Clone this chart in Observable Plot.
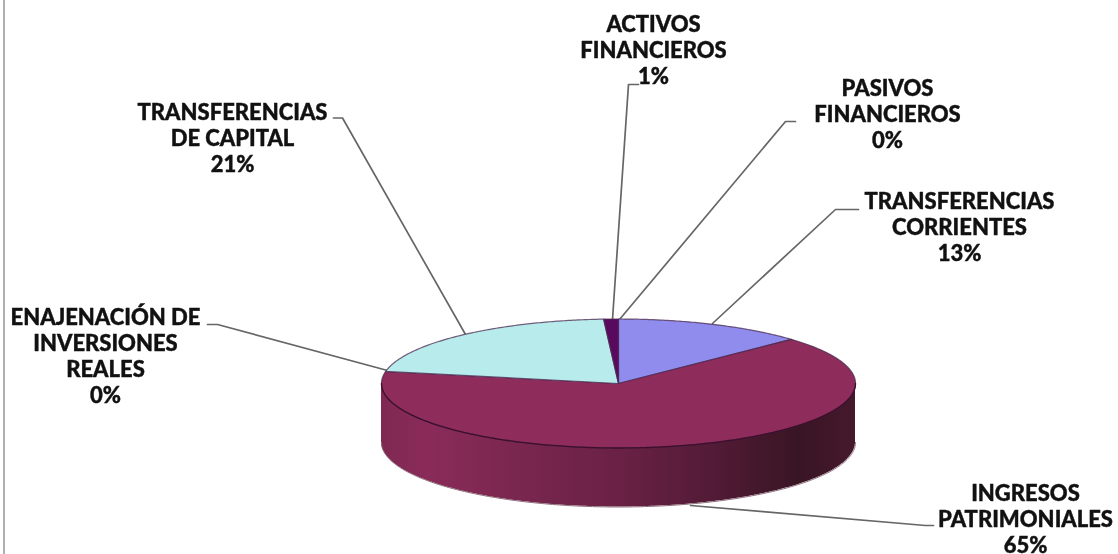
<!DOCTYPE html>
<html><head><meta charset="utf-8">
<script src="https://cdn.jsdelivr.net/npm/d3@7"></script>
<script src="https://cdn.jsdelivr.net/npm/@observablehq/plot@0.6"></script>
<style>html,body{margin:0;padding:0;background:#fff;overflow:hidden}
svg{display:block;filter:blur(0.5px)}</style>
</head><body><div id="chart"></div>
<script>
const categories = ["TRANSFERENCIAS CORRIENTES","INGRESOS PATRIMONIALES","ENAJENACIÓN DE INVERSIONES REALES","TRANSFERENCIAS DE CAPITAL","ACTIVOS FINANCIEROS","PASIVOS FINANCIEROS"];
const shares = [13, 65, 0, 21, 1, 0];
const sliceColors = ["#8f8cee","#8e2c5c","#7a7a7a","#b8ecec","#5a0a5e","#8f8cee"];
const labelLines = [
  ["TRANSFERENCIAS","CORRIENTES","13%"],
  ["INGRESOS","PATRIMONIALES","65%"],
  ["ENAJENACIÓN DE","INVERSIONES","REALES","0%"],
  ["TRANSFERENCIAS","DE CAPITAL","21%"],
  ["ACTIVOS","FINANCIEROS","1%"],
  ["PASIVOS","FINANCIEROS","0%"]
];
const labelX = [959, 1025, 105, 232, 653, 887];
const labelTop = [201, 493, 317, 112, 24, 88];
const leaders = [
  [[712,323],[835,209],[858,209]],
  [[690,505],[925,525],[933,525]],
  [[387,370],[217,324],[207,324]],
  [[465,334],[342,117.5],[333,117.5]],
  [[612,319],[628,84],[638,84]],
  [[619,319],[785,121],[795,121]]
];

const W = 1118, H = 554, cx = 618, cy = 383, rx = 237, ry = 64.5, depth = 59;
const lineStep = 26;
const total = d3.sum(shares);
const pt = (a, dy = 0) => ({x: cx + rx * Math.sin(a), y: cy - ry * Math.cos(a) + dy});

// slices on the top face, clockwise from 12 o'clock
let cum = 0;
const faces = [];
shares.forEach((v, i) => {
  const a0 = cum / total * 2 * Math.PI; cum += v;
  const a1 = cum / total * 2 * Math.PI;
  if (v === 0) return;
  const n = Math.max(2, Math.ceil((a1 - a0) / 0.01));
  const pts = [{x: cx, y: cy}];
  for (let k = 0; k <= n; k++) pts.push(pt(a0 + (a1 - a0) * k / n));
  pts.push({x: cx, y: cy});
  faces.push({i, pts});
});

// visible wall: front half of the ellipse
const wall = d3.range(0, 201).map(k => {
  const a = Math.PI / 2 + Math.PI * k / 200;
  const p = pt(a);
  return {x: p.x, y1: p.y, y2: p.y + depth};
});
const rimFront = wall.map(d => ({x: d.x, y: d.y1}));
const rimBottom = wall.map(d => ({x: d.x, y: d.y2}));

const defs = () => {
  const s = d3.create("svg:defs");
  const g = s.append("linearGradient").attr("id", "wallGrad");
  [[0,"#7f2852"],[0.1,"#8a2b59"],[0.28,"#7a274f"],[0.5,"#6a2145"],[0.7,"#521b36"],[0.88,"#391524"],[1,"#45192c"]]
    .forEach(([o,c]) => g.append("stop").attr("offset", o).attr("stop-color", c));
  return s.node();
};

const labelRows = labelLines.flatMap((lines, i) =>
  lines.map((t, j) => ({t, x: labelX[i], y: labelTop[i] + j * lineStep})));

const plot = Plot.plot({
  width: W, height: H, margin: 0,
  x: {domain: [0, W], range: [0, W], axis: null},
  y: {domain: [0, H], range: [0, H], axis: null},
  marks: [
    defs,
    Plot.ruleX([3.5], {stroke: "#b0b0b0", strokeWidth: 2}),
    ...leaders.map(l => Plot.line(l, {x: d => d[0], y: d => d[1], stroke: "#666", strokeWidth: 1.7})),
    Plot.areaY(wall, {x: "x", y1: "y1", y2: "y2", fill: "url(#wallGrad)"}),
    Plot.line(rimBottom, {x: "x", y: "y", stroke: "#8a6a78", strokeWidth: 1}),
    ...faces.map(f => Plot.line(f.pts, {x: "x", y: "y", fill: sliceColors[f.i], stroke: "#4a2a50", strokeWidth: 1.2, strokeOpacity: 0.75})),
    Plot.line(rimFront, {x: "x", y: "y", stroke: "#3d0f2c", strokeWidth: 1.3}),
    Plot.text(labelRows, {x: "x", y: "y", text: "t", fontFamily: "Lato", fontWeight: 900, fontSize: 22, fill: "#111", stroke: "#111", strokeWidth: 0.4, textAnchor: "middle"})
  ]
});
document.getElementById("chart").append(plot);
</script></body></html>
